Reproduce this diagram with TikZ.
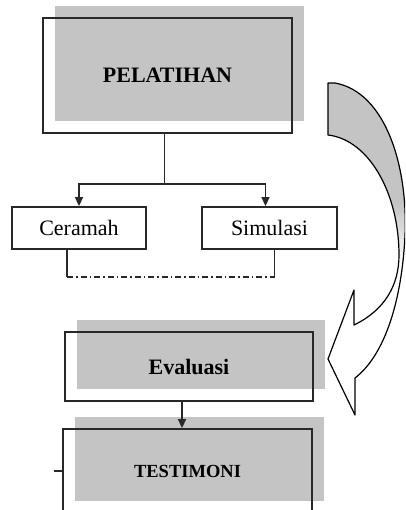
\documentclass[tikz,border=0pt]{standalone}
\usepackage{fontspec}
\setmainfont{Liberation Serif}
\usetikzlibrary{arrows.meta, shadows}
\definecolor{pnl}{RGB}{196,196,196}
\definecolor{edge}{RGB}{40,40,40}
\tikzset{
	box/.style = {draw=edge, line width=1.8pt, inner sep=0pt, font=\fontsize{22}{26}\selectfont},
	grbox/.style = {box, font=\fontsize{22}{26}\selectfont\bfseries, general shadow={fill=pnl, shadow xshift=12pt, shadow yshift=12pt}},
	arr/.style = {edge, line width=1.5pt, -{Triangle[length=9pt, width=8pt]}}
}
\newcommand{\bigarrowpath}{(328,83) -- (335,83) .. controls (385,92) and (408,165) .. (405,235) .. controls (402,300) and (385,355) .. (355,378) -- (355,415) -- (328,359) -- (354,290) -- (354,325) .. controls (385,310) and (399,285) .. (399,255) .. controls (399,195) and (370,140) .. (328,135) -- cycle}

\begin{document}
\begin{tikzpicture}[x = 1pt, y = -1pt]
		\useasboundingbox (0,0) rectangle (405,510);
		\clip (0,0) rectangle (405,510);
		\node [grbox, minimum width=249pt, minimum height=115pt] (pel) at (167.5,75.5) {PELATIHAN};
		\node [box, minimum width=134pt, minimum height=42pt] (cer) at (79,228) {Ceramah};
		\node [box, minimum width=135pt, minimum height=42pt] (sim) at (269.5,228) {Simulasi};
		\node [grbox, minimum width=248pt, minimum height=69pt] (eva) at (189,366.5) {Evaluasi};
		\node [grbox, minimum width=249pt, minimum height=84pt, font=\fontsize{18.5}{22}\selectfont\bfseries] (tes) at (187.5,471) {TESTIMONI};
		\draw [edge, line width=1.5pt] ([xshift=-3pt]pel.south) -- ++(0,50) coordinate (split);
		\draw [arr] (split) -| (cer.north);
		\draw [arr] (split) -| ([xshift=-4pt]sim.north);
		\draw [edge, line width=1.5pt] ([xshift=-12pt]cer.south) -- ++(0,27) coordinate (bl);
		\draw [edge, line width=1.5pt] ([xshift=5pt]sim.south) -- ++(0,27) coordinate (br);
		\draw [edge, line width=1.3pt, dash pattern=on 6pt off 3pt on 1.5pt off 3pt] (bl) -- (br);
		\draw [arr] ([xshift=-7pt]eva.south) -- ([xshift=-7pt]eva.south |- tes.north);
		\draw [edge, line width=1.2pt] (tes.west) -- ++(-8,0);
		\begin{scope}
			\clip \bigarrowpath;
			\fill [pnl] (300,70) rectangle (410,205);
			\shade [top color=pnl, bottom color=white] (300,204) rectangle (410,265);
		\end{scope}
		\draw [black, line width=1.2pt, line join=round] \bigarrowpath;
	\end{tikzpicture}
\end{document}
